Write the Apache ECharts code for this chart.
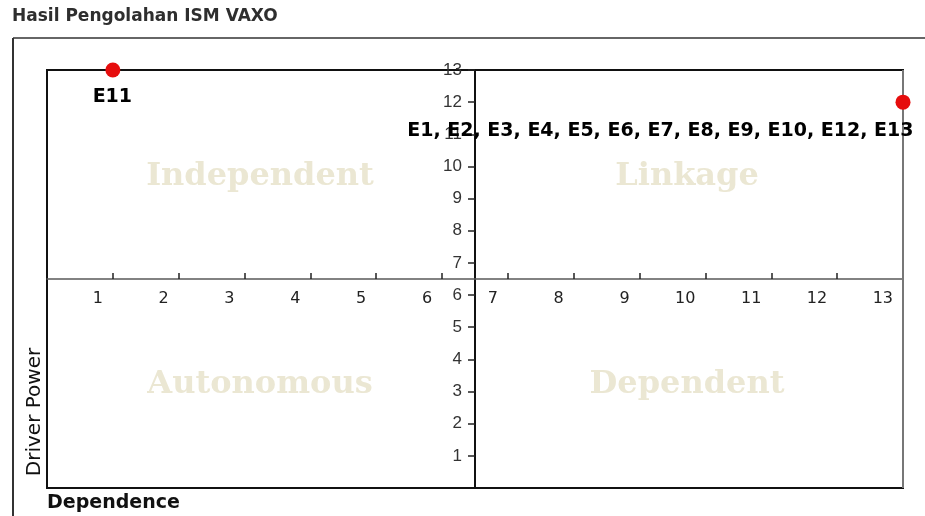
<!DOCTYPE html>
<html>
<head>
<meta charset="utf-8">
<title>Hasil Pengolahan ISM VAXO</title>
<script src="https://cdn.jsdelivr.net/npm/echarts@6/dist/echarts.min.js"></script>
<style>
  html, body { margin: 0; padding: 0; background: #fff; }
  #mainChart { width: 925px; height: 516px; }
</style>
</head>
<body>
<div id="mainChart"></div>
<script>
// data
const elementNames = ["E11", "E13"];
const dependence = [1, 13];
const driverPower = [13, 12];
const pointLabels = ["E11", "E1, E2, E3, E4, E5, E6, E7, E8, E9, E10, E12, E13"];
const xTicks = [1, 2, 3, 4, 5, 6, 7, 8, 9, 10, 11, 12, 13];
const yTicks = [1, 2, 3, 4, 5, 6, 7, 8, 9, 10, 11, 12, 13];
const quadrants = ["Independent", "Linkage", "Autonomous", "Dependent"];

const myChart = echarts.init(document.getElementById("mainChart"));

// grid box in pixels
const gLeft = 47, gTop = 70, gWidth = 856, gHeight = 418;

// label placement per point (relative to symbol box)
const labelPlace = [
  { position: [7, 35], align: "center" },
  { position: [18, 36], align: "right" },
];

const points = elementNames.map(function (n, i) {
  return {
    name: n,
    value: [dependence[i], driverPower[i]],
    label: {
      show: true,
      formatter: pointLabels[i],
      position: labelPlace[i].position,
      align: labelPlace[i].align,
      verticalAlign: "middle",
    },
  };
});

// quadrant text positions (pixel centres)
const quadPos = [[260, 177], [687, 177], [260, 385], [687, 385]];

let option = {
  backgroundColor: "#fff",
  animation: false,
  grid: {
    left: gLeft,
    top: gTop,
    width: gWidth,
    height: gHeight,
    show: true,
    borderColor: "#111",
    borderWidth: 2,
    outerBoundsMode: "none",
  },
  xAxis: {
    type: "value",
    min: 0,
    max: 13,
    interval: 1,
    position: "bottom",
    offset: -gHeight / 2, // axes cross in the middle
    axisLine: { show: true, lineStyle: { color: "#5a5a5a", width: 1.5 } },
    axisTick: {
      show: true,
      inside: true,
      length: 6,
      customValues: xTicks,
      lineStyle: { color: "#222", width: 1.5 },
    },
    axisLabel: {
      customValues: xTicks,
      align: "right",
      padding: [0, 10, 0, 0],
      margin: 12,
      fontFamily: "DejaVu Sans",
      fontSize: 16,
      color: "#222",
    },
    splitLine: { show: false },
  },
  yAxis: {
    type: "value",
    min: 0,
    max: 13,
    interval: 1,
    position: "left",
    offset: -gWidth / 2,
    axisLine: { show: true, lineStyle: { color: "#111", width: 2 } },
    axisTick: {
      show: true,
      length: 7,
      customValues: yTicks,
      lineStyle: { color: "#222", width: 1.5 },
    },
    axisLabel: {
      customValues: yTicks,
      margin: 13,
      fontFamily: "Liberation Sans",
      fontSize: 17,
      color: "#333",
    },
    splitLine: { show: false },
  },
  graphic: [
    {
      type: "text",
      left: 12,
      top: 8,
      style: {
        text: "Hasil Pengolahan ISM VAXO",
        font: "bold 17px 'DejaVu Sans'",
        fill: "#2e2e2e",
      },
    },
    {
      type: "line",
      shape: { x1: 13, y1: 38, x2: 925, y2: 38 },
      style: { stroke: "#666", lineWidth: 2 },
    },
    {
      type: "line",
      shape: { x1: 13, y1: 38, x2: 13, y2: 516 },
      style: { stroke: "#333", lineWidth: 2 },
    },
    {
      type: "line",
      shape: { x1: gLeft + gWidth, y1: gTop, x2: gLeft + gWidth, y2: gTop + gHeight },
      style: { stroke: "#777", lineWidth: 2 },
      z: 2,
    },
    {
      type: "text",
      x: 35,
      y: 412,
      rotation: Math.PI / 2,
      style: {
        text: "Driver Power",
        font: "20px 'DejaVu Sans'",
        fill: "#111",
        align: "center",
        verticalAlign: "middle",
      },
    },
    {
      type: "text",
      x: 47,
      y: 503,
      style: {
        text: "Dependence",
        font: "bold 19px 'DejaVu Sans'",
        fill: "#111",
        align: "left",
        verticalAlign: "middle",
      },
    },
  ].concat(
    quadrants.map(function (q, i) {
      return {
        type: "text",
        x: quadPos[i][0],
        y: quadPos[i][1],
        z: -1,
        style: {
          text: q,
          font: "bold 32px 'DejaVu Serif'",
          fill: "#ebe7d3",
          align: "center",
          verticalAlign: "middle",
        },
      };
    })
  ),
  series: [
    {
      name: "ISM",
      type: "scatter",
      symbol: "circle",
      symbolSize: 15,
      clip: false,
      itemStyle: { color: "#e60d0d", opacity: 1 },
      label: {
        fontFamily: "DejaVu Sans",
        fontWeight: "bold",
        fontSize: 19,
        color: "#000",
      },
      data: points,
      z: 5,
    },
  ],
};

myChart.setOption(option);
</script>
</body>
</html>
